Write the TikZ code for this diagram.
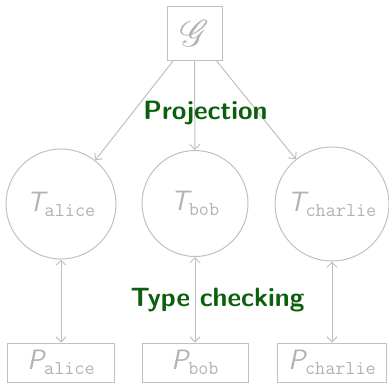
\documentclass[tikz,border=0pt]{standalone}
\usepackage{fontspec}
\usepackage{graphicx}
\usepackage{mathrsfs}
\usetikzlibrary{arrows.meta}

\definecolor{edgegray}{RGB}{192,192,192}
\definecolor{labelgray}{RGB}{178,178,178}
\definecolor{phasegreen}{RGB}{12,95,12}

% role label: slanted sans letter with a typewriter subscript
\newcommand{\rolelabel}[2]{{\sffamily\itshape #1}\raisebox{-5pt}{\fontsize{19.6}{22}\selectfont\ttfamily #2}}

\begin{document}
\begin{tikzpicture}[x=1pt, y=-1pt,
  >={Straight Barb[length=5pt, width=10pt]},
  every node/.style={text=labelgray, font=\fontsize{28}{32}\selectfont},
  party/.style={circle, draw=edgegray, line width=1pt, inner sep=0pt},
  prog/.style={rectangle, draw=edgegray, line width=1pt, inner sep=0pt, minimum height=39pt},
  link/.style={draw=edgegray, line width=1pt, ->},
  twoway/.style={draw=edgegray, line width=1pt, <->},
  phase/.style={text=phasegreen, font=\fontsize{26.5}{31}\selectfont\sffamily\bfseries}]
\useasboundingbox (0,0) rectangle (389,383);

% global type
\node[prog, minimum width=55pt, minimum height=54pt] (G) at (194.5,33.5) {\scalebox{1.5}{$\mathscr{G}$}};

% local types
\node[party, minimum size=110pt] (Ta) at (61,204) {\rolelabel{T}{alice}};
\node[party, minimum size=106pt] (Tb) at (195,203.5) {\rolelabel{T}{bob}};
\node[party, minimum size=114pt] (Tc) at (332,204) {\rolelabel{T}{charlie}};

% processes
\node[prog, minimum width=107pt] (Pa) at (61,362.5) {\rolelabel{P}{alice}};
\node[prog, minimum width=106pt] (Pb) at (195,362.5) {\rolelabel{P}{bob}};
\node[prog, minimum width=109pt] (Pc) at (332,362.5) {\rolelabel{P}{charlie}};

% projection
\draw[link] (G) -- (Ta);
\draw[link] (G) -- (Tb);
\draw[link] (G) -- (Tc);

% type checking
\draw[twoway] (Ta) -- (Pa);
\draw[twoway] (Tb) -- (Pb);
\draw[twoway] (Tc) -- (Pc);

% phase names
\node[phase] (proj) at (205.5,113) {Projection};
\node[phase] (check) at (217.5,300) {Type checking};
\end{tikzpicture}
\end{document}
